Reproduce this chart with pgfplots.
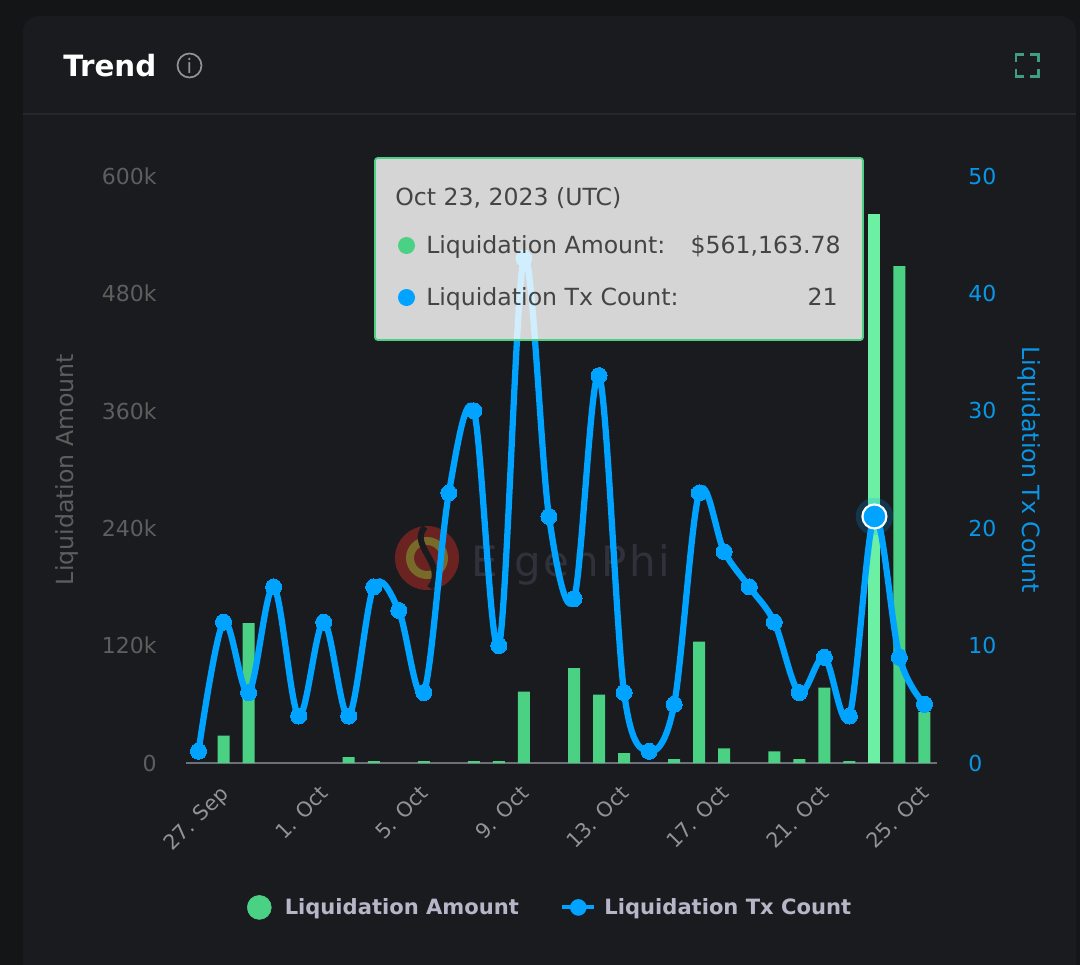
\documentclass[border=0pt]{standalone}
\usepackage{fontspec}
\setmainfont{DejaVu Sans}
\usepackage{pgfplots}
\pgfplotsset{compat=1.18}
\definecolor{outerbg}{HTML}{141517}
\definecolor{cardbg}{HTML}{1A1B1F}
\definecolor{rulecol}{HTML}{26272C}
\definecolor{barcol}{HTML}{4BD184}
\definecolor{barhi}{HTML}{6CF0A3}
\definecolor{linecol}{HTML}{00A3FF}
\definecolor{leftcol}{HTML}{5E5E5E}
\definecolor{rightcol}{HTML}{0A96E6}
\definecolor{axiscol}{HTML}{6E7079}
\definecolor{legcol}{HTML}{B9B5C8}
\definecolor{tipcol}{HTML}{444444}
\definecolor{markred}{HTML}{6A2320}
\definecolor{markyel}{HTML}{786A28}
\definecolor{iconcol}{HTML}{3F9E80}
\definecolor{wmtext}{HTML}{30313A}
\newcommand\fs[1]{\fontsize{#1}{#1}\selectfont}
\pgfplotsset{
  trendaxis/.style={
    at={(139.5pt,-572.25pt)}, anchor=south west,
    scale only axis, width=563.25pt, height=440.25pt,
    xmin=-0.5, xmax=29.5, ymin=0,
    major tick length=0pt, clip=false,
    scaled y ticks=false,
    tick label style={font=\fs{16.5}},
  },
}
\begin{document}
\begin{tikzpicture}[x=0.75pt,y=-0.75pt]
\path[use as bounding box] (0,0) rectangle (1080,964);
\fill[outerbg] (-5,-5) rectangle (1085,970);
\fill[cardbg,rounded corners=12pt] (23,16) rectangle (1076,1000);
\fill[rulecol] (23,112.5) rectangle (1076,114.5);
% header
\node[anchor=base west,text=white,font=\fs{22}\bfseries,inner sep=0] at (63,76) {Trend};
\draw[draw=gray!85,line width=1.3pt] (189.5,65.5) circle (12);
\node[text=gray!85,font=\fs{15},inner sep=0] at (189.5,65.5) {i};
\begin{scope}[draw=iconcol,line width=2.2pt]
\draw (1016,62) -- (1016,54.5) -- (1024,54.5);
\draw (1030,54.5) -- (1038.5,54.5) -- (1038.5,62);
\draw (1016,69) -- (1016,76.5) -- (1024,76.5);
\draw (1030,76.5) -- (1038.5,76.5) -- (1038.5,69);
\end{scope}
% watermark
\fill[markred] (427,558) circle (32);
\draw[markyel,line width=6pt] (427,558) circle (17);
\draw[cardbg,line width=4.5pt] (425,527) .. controls (408,545) and (448,565) .. (430,588);
\node[anchor=base west,text=wmtext,font=\fs{31.5}\addfontfeature{LetterSpace=6},inner sep=0] at (471,576) {EigenPhi};

\begin{axis}[trendaxis,
  ymax=600000,
  axis x line=bottom, axis y line=left,
  x axis line style={-,draw=axiscol,line width=1.8pt},
  y axis line style={draw=none},
  xtick={1,5,...,29},
  xticklabels={27. Sep,1. Oct,5. Oct,9. Oct,13. Oct,17. Oct,21. Oct,25. Oct},
  xticklabel style={font=\fs{15.5},rotate=45,anchor=north east,text=gray!85,xshift=-10.3pt,yshift=-5pt},
  ytick={0,120000,240000,360000,480000,600000},
  yticklabels={0,120k,240k,360k,480k,600k},
  yticklabel style={text=leftcol,anchor=east,xshift=-18.5pt},
  ylabel={Liquidation Amount},
  every axis y label/.style={at={(axis description cs:-0.158,0.5)},anchor=center,rotate=90,text=leftcol,font=\fs{17.7}},
  ybar, bar shift=0pt, bar width=9pt,
]
\addplot[fill=barcol,draw=none] coordinates {
  (1,28000) (2,143000) (6,6000) (7,2000) (9,2000) (11,2000) (12,2000) (13,73000)
  (15,97000) (16,70000) (17,10000) (19,4000) (20,124000) (21,15000) (23,12000)
  (24,4000) (25,77000) (26,2000) (28,508000) (29,52000)
};
\addplot[fill=barhi,draw=none] coordinates {(27,561163.78)};
\end{axis}

\begin{axis}[trendaxis,
  ymax=50,
  axis x line=none, axis y line=right,
  y axis line style={draw=none},
  ytick={0,10,20,30,40,50},
  yticklabels={0,10,20,30,40,50},
  yticklabel style={text=rightcol,anchor=west,xshift=20pt},
  ylabel={Liquidation Tx Count},
  every axis y label/.style={at={(axis description cs:1.122,0.5)},anchor=center,rotate=-90,text=rightcol,font=\fs{17.8}},
  legend columns=2,
  legend style={at={(0.505,-0.246)},anchor=center,draw=none,fill=none,
    text=legcol,font=\fs{15.8}\bfseries,
    /tikz/every even column/.style={column sep=29pt},
    /tikz/every odd column/.style={column sep=4pt}},
]
\addlegendimage{legend image code/.code={\fill[barcol,overlay] (-0.46cm,0) circle (9pt);}}
\addlegendentry{Liquidation Amount}
\addlegendimage{legend image code/.code={\draw[linecol,line width=3pt] (0,0) -- (0.85cm,0);\fill[linecol] (0.425cm,0) circle (6pt);}}
\addlegendentry{Liquidation Tx Count}
\addplot[linecol,line width=4.7pt,smooth,tension=0.55,mark=*,mark size=6pt,mark options={line width=0pt,fill=linecol,draw=linecol}] coordinates {
  (0,1) (1,12) (2,6) (3,15) (4,4) (5,12) (6,4) (7,15) (8,13) (9,6)
  (10,23) (11,30) (12,10) (13,43) (14,21) (15,14) (16,33) (17,6) (18,1) (19,5)
  (20,23) (21,18) (22,15) (23,12) (24,6) (25,9) (26,4) (27,21) (28,9) (29,5)
};
% hovered point
\addplot[only marks,mark=*,mark size=14pt,mark options={line width=0pt,fill=linecol,fill opacity=0.2,draw opacity=0}] coordinates {(27,21)};
\addplot[only marks,mark=*,mark size=9pt,mark options={fill=linecol,draw=white,line width=1.6pt}] coordinates {(27,21)};
\end{axis}

% tooltip
\fill[white,fill opacity=0.82,rounded corners=2pt] (375,158) rectangle (863,340);
\draw[barcol,line width=1.3pt,rounded corners=2pt] (375,158) rectangle (863,340);
\begin{scope}[every node/.style={inner sep=0,text=tipcol}]
\node[anchor=base west,font=\fs{17.7}] at (395,205) {Oct 23, 2023 (UTC)};
\fill[barcol] (406.5,245.5) circle (8.5);
\fill[linecol] (406.5,297.5) circle (8.5);
\node[anchor=base west,font=\fs{17.7}] at (426,253) {Liquidation Amount:};
\node[anchor=base west,font=\fs{17.7}] at (426,305) {Liquidation Tx Count:};
\node[anchor=base east,font=\fs{17.7}] at (841,253) {\$561,163.78};
\node[anchor=base east,font=\fs{17.7}] at (838,305) {21};
\end{scope}
\end{tikzpicture}
\end{document}
